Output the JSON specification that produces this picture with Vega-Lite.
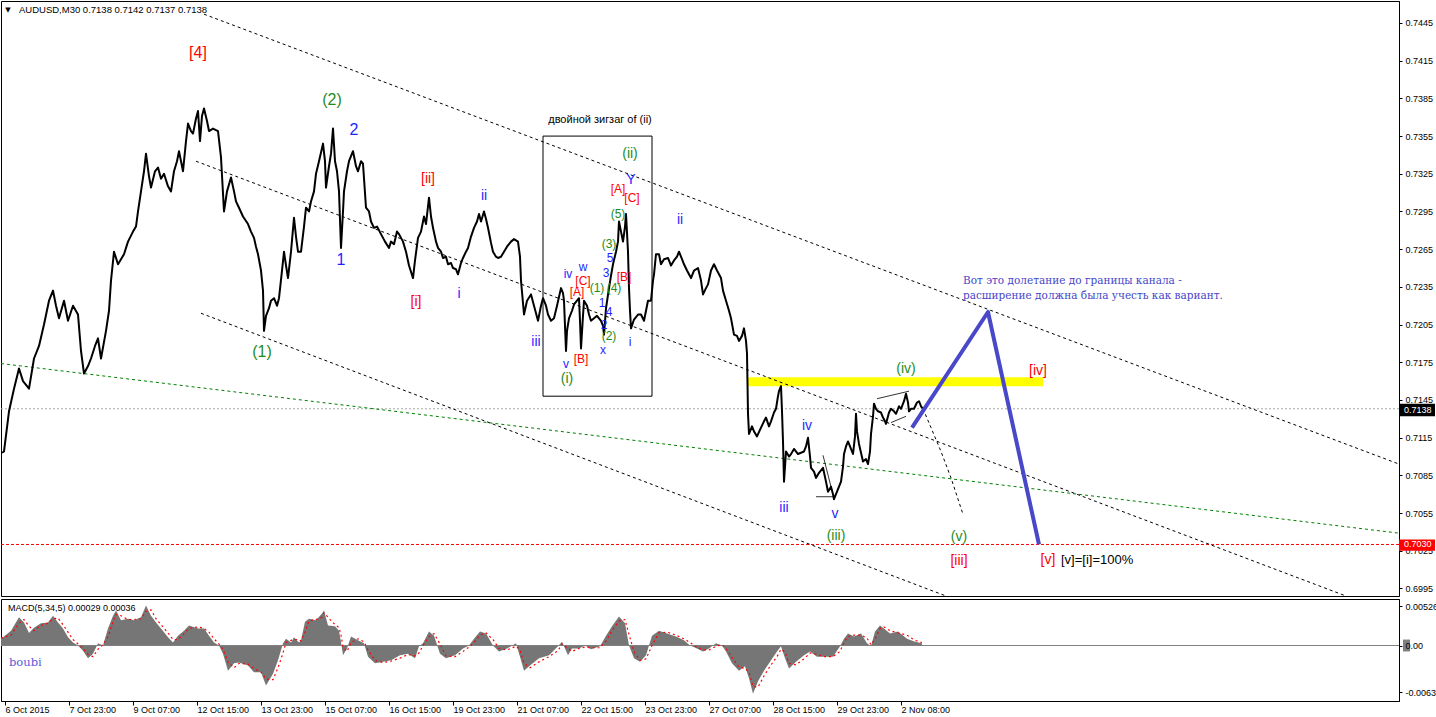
{
"$schema":"https://vega.github.io/schema/vega-lite/v6.json",
"padding":0,
"background":"white",
"spacing":1,
"config":{"view":{"stroke":"black","strokeWidth":1},"font":"Liberation Sans"},
"vconcat":[
{
"width":1398,"height":595,
"resolve":{"axis":{"x":"independent","y":"independent"}},
"layer":[
{"data":{"values":[{"x":747,"x2":1042,"p":0.7163,"p2":0.7156}]},
 "mark":{"type":"rect","color":"#ffff00"},
 "encoding":{"x":{"field":"x","type":"quantitative","scale":{"domain":[0,1398],"nice":false,"zero":false},"axis":null},"x2":{"field":"x2"},
 "y":{"field":"p","type":"quantitative","scale":{"domain":[0.6989,0.74625],"nice":false,"zero":false},
 "axis":{"orient":"right","values":[0.7445,0.7415,0.7385,0.7355,0.7325,0.7295,0.7265,0.7235,0.7205,0.7175,0.7145,0.7115,0.7085,0.7055,0.7025,0.6995],"format":".4f","title":null,"grid":false,"domainColor":"black","tickColor":"black","tickSize":3,"labelColor":"black","labelFont":"Liberation Sans","labelFontSize":9,"labelPadding":3,"labelFlush":false,"labelOverlap":false,"labelBound":false}},"y2":{"field":"p2"}}},
{"data":{"values":[{}]},
 "mark":{"type":"rule","color":"#a8a8a8","strokeDash":[2,2],"strokeWidth":1,"clip":true},
 "encoding":{"y":{"datum":0.7138,"type":"quantitative","scale":{"domain":[0.6989,0.74625],"nice":false,"zero":false},"axis":null}}},
{"data":{"values":[{}]},
 "mark":{"type":"rule","color":"#ff0000","strokeDash":[3,2],"strokeWidth":1,"clip":true},
 "encoding":{"y":{"datum":0.7030,"type":"quantitative","scale":{"domain":[0.6989,0.74625],"nice":false,"zero":false},"axis":null}}},
{"data":{"values":[{"id":"g","x":0,"p":0.7174},{"id":"g","x":1398,"p":0.7039}]},
 "mark":{"type":"line","color":"#008000","strokeDash":[3,3],"strokeWidth":1,"clip":true,"strokeJoin":"round"},
 "encoding":{"x":{"field":"x","type":"quantitative","scale":{"domain":[0,1398],"nice":false,"zero":false},"axis":null},
 "y":{"field":"p","type":"quantitative","scale":{"domain":[0.6989,0.74625],"nice":false,"zero":false},"axis":null},"detail":{"field":"id"}}},
{"data":{"values":[
 {"id":"upper","x":203,"p":0.7452},{"id":"upper","x":1398,"p":0.7094},
 {"id":"middle","x":195,"p":0.7335},{"id":"middle","x":1345,"p":0.6989},
 {"id":"lower","x":200,"p":0.7214},{"id":"lower","x":945,"p":0.6989},
 {"id":"proj","x":922,"p":0.7138},{"id":"proj","x":930,"p":0.7123},{"id":"proj","x":940,"p":0.7104},{"id":"proj","x":950,"p":0.7083},{"id":"proj","x":962,"p":0.7054}
 ]},
 "mark":{"type":"line","color":"black","strokeDash":[3,3],"strokeWidth":1,"clip":true,"strokeJoin":"round"},
 "encoding":{"x":{"field":"x","type":"quantitative","scale":{"domain":[0,1398],"nice":false,"zero":false},"axis":null},
 "y":{"field":"p","type":"quantitative","scale":{"domain":[0.6989,0.74625],"nice":false,"zero":false},"axis":null},"detail":{"field":"id"}}},
{"data":{"values":[{"x":542,"x2":651,"p":0.7355,"p2":0.7148}]},
 "mark":{"type":"rect","fill":null,"fillOpacity":0,"stroke":"black","strokeWidth":1},
 "encoding":{"x":{"field":"x","type":"quantitative","scale":{"domain":[0,1398],"nice":false,"zero":false},"axis":null},"x2":{"field":"x2"},
 "y":{"field":"p","type":"quantitative","scale":{"domain":[0.6989,0.74625],"nice":false,"zero":false},"axis":null},"y2":{"field":"p2"}}},
{"data":{"values":[
 {"id":"a","x":876,"p":0.7146},{"id":"a","x":908,"p":0.7152},
 {"id":"b","x":890,"p":0.7127},{"id":"b","x":905,"p":0.7132},
 {"id":"c","x":815,"p":0.7068},{"id":"c","x":833,"p":0.7068},
 {"id":"d","x":822,"p":0.7101},{"id":"d","x":830,"p":0.7076}
 ]},
 "mark":{"type":"line","color":"black","strokeWidth":0.8,"clip":true,"strokeJoin":"round"},
 "encoding":{"x":{"field":"x","type":"quantitative","scale":{"domain":[0,1398],"nice":false,"zero":false},"axis":null},
 "y":{"field":"p","type":"quantitative","scale":{"domain":[0.6989,0.74625],"nice":false,"zero":false},"axis":null},"detail":{"field":"id"}}},
{"data":{"values":[
{"x":1,"p":0.7103},{"x":3,"p":0.7104},{"x":8,"p":0.7136},{"x":13,"p":0.7154},{"x":18,"p":0.7170},{"x":22,"p":0.7160},{"x":28,"p":0.7154},{"x":33,"p":0.7178},{"x":38,"p":0.7188},{"x":43,"p":0.7205},{"x":48,"p":0.7224},{"x":52,"p":0.7232},{"x":55,"p":0.7220},{"x":58,"p":0.7210},{"x":63,"p":0.7224},{"x":67,"p":0.7208},{"x":72,"p":0.7220},{"x":77,"p":0.7213},{"x":80,"p":0.7184},{"x":83,"p":0.7166},{"x":87,"p":0.7172},{"x":90,"p":0.7178},{"x":94,"p":0.7188},{"x":97,"p":0.7194},{"x":100,"p":0.7178},{"x":105,"p":0.7200},{"x":108,"p":0.7216},{"x":110,"p":0.7240},{"x":113,"p":0.7263},{"x":117,"p":0.7253},{"x":120,"p":0.7257},{"x":123,"p":0.7261},{"x":127,"p":0.7271},{"x":132,"p":0.7279},{"x":135,"p":0.7283},{"x":137,"p":0.7295},{"x":140,"p":0.7311},{"x":143,"p":0.7327},{"x":145,"p":0.7341},{"x":148,"p":0.7323},{"x":150,"p":0.7314},{"x":154,"p":0.7327},{"x":157,"p":0.7330},{"x":160,"p":0.7321},{"x":163,"p":0.7325},{"x":167,"p":0.7315},{"x":170,"p":0.7311},{"x":173,"p":0.7327},{"x":176,"p":0.7335},{"x":178,"p":0.7343},{"x":182,"p":0.7327},{"x":185,"p":0.7351},{"x":187,"p":0.7365},{"x":190,"p":0.7359},{"x":192,"p":0.7357},{"x":195,"p":0.7369},{"x":197,"p":0.7375},{"x":199,"p":0.7351},{"x":201,"p":0.7371},{"x":203,"p":0.7377},{"x":206,"p":0.7367},{"x":208,"p":0.7359},{"x":212,"p":0.7361},{"x":217,"p":0.7359},{"x":220,"p":0.7338},{"x":223,"p":0.7295},{"x":226,"p":0.7311},{"x":230,"p":0.7322},{"x":233,"p":0.7311},{"x":235,"p":0.7303},{"x":238,"p":0.7298},{"x":242,"p":0.7291},{"x":247,"p":0.7285},{"x":250,"p":0.7279},{"x":253,"p":0.7274},{"x":255,"p":0.7267},{"x":257,"p":0.7261},{"x":260,"p":0.7248},{"x":262,"p":0.7232},{"x":263,"p":0.7200},{"x":265,"p":0.7212},{"x":268,"p":0.7218},{"x":270,"p":0.7224},{"x":273,"p":0.7226},{"x":276,"p":0.7220},{"x":278,"p":0.7226},{"x":281,"p":0.7248},{"x":283,"p":0.7263},{"x":285,"p":0.7252},{"x":287,"p":0.7242},{"x":290,"p":0.7263},{"x":293,"p":0.7290},{"x":295,"p":0.7275},{"x":297,"p":0.7263},{"x":300,"p":0.7263},{"x":303,"p":0.7283},{"x":305,"p":0.7298},{"x":308,"p":0.7295},{"x":310,"p":0.7303},{"x":313,"p":0.7311},{"x":315,"p":0.7325},{"x":318,"p":0.7335},{"x":322,"p":0.7349},{"x":324,"p":0.7335},{"x":325,"p":0.7314},{"x":328,"p":0.7331},{"x":330,"p":0.7341},{"x":332,"p":0.7361},{"x":334,"p":0.7335},{"x":336,"p":0.7327},{"x":338,"p":0.7311},{"x":340,"p":0.7266},{"x":342,"p":0.7295},{"x":343,"p":0.7311},{"x":346,"p":0.7327},{"x":348,"p":0.7335},{"x":350,"p":0.7339},{"x":352,"p":0.7343},{"x":355,"p":0.7331},{"x":357,"p":0.7327},{"x":360,"p":0.7335},{"x":362,"p":0.7333},{"x":365,"p":0.7298},{"x":368,"p":0.7295},{"x":370,"p":0.7287},{"x":373,"p":0.7282},{"x":376,"p":0.7283},{"x":380,"p":0.7277},{"x":384,"p":0.7271},{"x":388,"p":0.7266},{"x":390,"p":0.7271},{"x":393,"p":0.7269},{"x":396,"p":0.7279},{"x":398,"p":0.7277},{"x":402,"p":0.7271},{"x":405,"p":0.7263},{"x":408,"p":0.7252},{"x":412,"p":0.7242},{"x":414,"p":0.7256},{"x":417,"p":0.7274},{"x":420,"p":0.7279},{"x":423,"p":0.7291},{"x":425,"p":0.7285},{"x":428,"p":0.7306},{"x":430,"p":0.7291},{"x":432,"p":0.7282},{"x":435,"p":0.7271},{"x":437,"p":0.7266},{"x":440,"p":0.7263},{"x":442,"p":0.7258},{"x":445,"p":0.7259},{"x":447,"p":0.7253},{"x":450,"p":0.7254},{"x":452,"p":0.7250},{"x":455,"p":0.7249},{"x":457,"p":0.7245},{"x":460,"p":0.7254},{"x":462,"p":0.7258},{"x":465,"p":0.7263},{"x":467,"p":0.7266},{"x":470,"p":0.7275},{"x":473,"p":0.7282},{"x":476,"p":0.7287},{"x":478,"p":0.7293},{"x":480,"p":0.7287},{"x":483,"p":0.7295},{"x":485,"p":0.7289},{"x":487,"p":0.7282},{"x":490,"p":0.7270},{"x":492,"p":0.7263},{"x":495,"p":0.7259},{"x":497,"p":0.7258},{"x":500,"p":0.7259},{"x":503,"p":0.7263},{"x":506,"p":0.7267},{"x":510,"p":0.7271},{"x":513,"p":0.7273},{"x":517,"p":0.7271},{"x":519,"p":0.7259},{"x":520,"p":0.7240},{"x":523,"p":0.7213},{"x":526,"p":0.7224},{"x":530,"p":0.7229},{"x":533,"p":0.7220},{"x":537,"p":0.7208},{"x":540,"p":0.7220},{"x":542,"p":0.7226},{"x":545,"p":0.7220},{"x":547,"p":0.7213},{"x":550,"p":0.7208},{"x":553,"p":0.7210},{"x":556,"p":0.7220},{"x":560,"p":0.7234},{"x":562,"p":0.7230},{"x":563,"p":0.7224},{"x":565,"p":0.7184},{"x":566,"p":0.7200},{"x":568,"p":0.7210},{"x":571,"p":0.7216},{"x":573,"p":0.7221},{"x":576,"p":0.7224},{"x":578,"p":0.7226},{"x":579,"p":0.7208},{"x":580,"p":0.7186},{"x":582,"p":0.7212},{"x":583,"p":0.7224},{"x":586,"p":0.7220},{"x":588,"p":0.7213},{"x":590,"p":0.7208},{"x":593,"p":0.7210},{"x":596,"p":0.7212},{"x":600,"p":0.7208},{"x":602,"p":0.7204},{"x":603,"p":0.7197},{"x":605,"p":0.7218},{"x":608,"p":0.7234},{"x":610,"p":0.7244},{"x":612,"p":0.7253},{"x":615,"p":0.7263},{"x":617,"p":0.7271},{"x":618,"p":0.7287},{"x":620,"p":0.7279},{"x":622,"p":0.7271},{"x":624,"p":0.7283},{"x":625,"p":0.7293},{"x":627,"p":0.7263},{"x":628,"p":0.7234},{"x":629,"p":0.7216},{"x":630,"p":0.7202},{"x":633,"p":0.7209},{"x":637,"p":0.7213},{"x":640,"p":0.7213},{"x":643,"p":0.7208},{"x":647,"p":0.7224},{"x":650,"p":0.7224},{"x":652,"p":0.7240},{"x":653,"p":0.7245},{"x":655,"p":0.7261},{"x":658,"p":0.7261},{"x":660,"p":0.7253},{"x":663,"p":0.7257},{"x":667,"p":0.7258},{"x":670,"p":0.7252},{"x":673,"p":0.7256},{"x":676,"p":0.7259},{"x":678,"p":0.7263},{"x":681,"p":0.7257},{"x":683,"p":0.7253},{"x":686,"p":0.7248},{"x":690,"p":0.7242},{"x":693,"p":0.7248},{"x":697,"p":0.7250},{"x":700,"p":0.7240},{"x":702,"p":0.7229},{"x":705,"p":0.7234},{"x":707,"p":0.7237},{"x":710,"p":0.7248},{"x":713,"p":0.7253},{"x":716,"p":0.7248},{"x":720,"p":0.7242},{"x":722,"p":0.7232},{"x":725,"p":0.7224},{"x":728,"p":0.7216},{"x":730,"p":0.7210},{"x":733,"p":0.7197},{"x":736,"p":0.7196},{"x":738,"p":0.7192},{"x":741,"p":0.7196},{"x":743,"p":0.7202},{"x":745,"p":0.7192},{"x":746,"p":0.7182},{"x":747,"p":0.7134},{"x":748,"p":0.7118},{"x":751,"p":0.7124},{"x":753,"p":0.7120},{"x":756,"p":0.7116},{"x":760,"p":0.7123},{"x":763,"p":0.7128},{"x":765,"p":0.7131},{"x":768,"p":0.7124},{"x":770,"p":0.7128},{"x":773,"p":0.7135},{"x":775,"p":0.7138},{"x":777,"p":0.7148},{"x":778,"p":0.7152},{"x":780,"p":0.7156},{"x":781,"p":0.7136},{"x":782,"p":0.7112},{"x":783,"p":0.7080},{"x":784,"p":0.7092},{"x":785,"p":0.7104},{"x":788,"p":0.7100},{"x":790,"p":0.7102},{"x":793,"p":0.7106},{"x":797,"p":0.7102},{"x":800,"p":0.7103},{"x":803,"p":0.7104},{"x":805,"p":0.7108},{"x":807,"p":0.7115},{"x":809,"p":0.7100},{"x":810,"p":0.7091},{"x":813,"p":0.7088},{"x":815,"p":0.7083},{"x":818,"p":0.7087},{"x":822,"p":0.7091},{"x":825,"p":0.7080},{"x":827,"p":0.7072},{"x":830,"p":0.7076},{"x":832,"p":0.7070},{"x":833,"p":0.7066},{"x":836,"p":0.7072},{"x":840,"p":0.7080},{"x":842,"p":0.7092},{"x":843,"p":0.7102},{"x":845,"p":0.7108},{"x":847,"p":0.7112},{"x":850,"p":0.7106},{"x":852,"p":0.7102},{"x":854,"p":0.7116},{"x":855,"p":0.7134},{"x":856,"p":0.7120},{"x":858,"p":0.7110},{"x":860,"p":0.7103},{"x":862,"p":0.7096},{"x":865,"p":0.7098},{"x":867,"p":0.7094},{"x":869,"p":0.7104},{"x":870,"p":0.7118},{"x":872,"p":0.7132},{"x":873,"p":0.7142},{"x":875,"p":0.7138},{"x":877,"p":0.7136},{"x":880,"p":0.7135},{"x":882,"p":0.7131},{"x":884,"p":0.7128},{"x":885,"p":0.7126},{"x":888,"p":0.7135},{"x":890,"p":0.7138},{"x":893,"p":0.7136},{"x":895,"p":0.7134},{"x":898,"p":0.7140},{"x":900,"p":0.7138},{"x":903,"p":0.7144},{"x":905,"p":0.7150},{"x":907,"p":0.7143},{"x":908,"p":0.7136},{"x":910,"p":0.7138},{"x":913,"p":0.7138},{"x":916,"p":0.7143},{"x":918,"p":0.7144},{"x":920,"p":0.7140},{"x":922,"p":0.7138}
 ]},
 "mark":{"type":"line","color":"black","strokeWidth":2,"clip":true,"strokeJoin":"round"},
 "encoding":{"x":{"field":"x","type":"quantitative","scale":{"domain":[0,1398],"nice":false,"zero":false},"axis":null},
 "y":{"field":"p","type":"quantitative","scale":{"domain":[0.6989,0.74625],"nice":false,"zero":false},"axis":null}}},
{"data":{"values":[{"x":911,"p":0.7123},{"x":987,"p":0.7215},{"x":1038,"p":0.7030}]},
 "mark":{"type":"line","color":"#4848c8","strokeWidth":4,"clip":true,"strokeJoin":"round"},
 "encoding":{"x":{"field":"x","type":"quantitative","scale":{"domain":[0,1398],"nice":false,"zero":false},"axis":null},
 "y":{"field":"p","type":"quantitative","scale":{"domain":[0.6989,0.74625],"nice":false,"zero":false},"axis":null}}},
{"data":{"values":[
{"x":197,"p":0.7421,"t":"[4]","deg":"primary","tier":"big"},
{"x":331,"p":0.7384,"t":"(2)","deg":"intermediate","tier":"big"},
{"x":353,"p":0.7360,"t":"2","deg":"minor","tier":"big"},
{"x":340,"p":0.7256,"t":"1","deg":"minor","tier":"big"},
{"x":261,"p":0.7183,"t":"(1)","deg":"intermediate","tier":"big"},
{"x":427,"p":0.7321,"t":"[ii]","deg":"primary","tier":"mid"},
{"x":415,"p":0.7223,"t":"[i]","deg":"primary","tier":"mid"},
{"x":483,"p":0.7307,"t":"ii","deg":"minor","tier":"mid"},
{"x":458,"p":0.7229,"t":"i","deg":"minor","tier":"mid"},
{"x":535,"p":0.7191,"t":"iii","deg":"minor","tier":"mid"},
{"x":629,"p":0.7341,"t":"(ii)","deg":"intermediate","tier":"mid"},
{"x":630,"p":0.7320,"t":"Y","deg":"minor","tier":"mid"},
{"x":617,"p":0.7313,"t":"[A]","deg":"primary","tier":"small"},
{"x":631,"p":0.7306,"t":"[C]","deg":"primary","tier":"small"},
{"x":617,"p":0.7293,"t":"(5)","deg":"intermediate","tier":"small"},
{"x":608,"p":0.7269,"t":"(3)","deg":"intermediate","tier":"small"},
{"x":609,"p":0.7258,"t":"5","deg":"minor","tier":"small"},
{"x":605,"p":0.7246,"t":"3","deg":"minor","tier":"small"},
{"x":623,"p":0.7243,"t":"[B]","deg":"primary","tier":"small"},
{"x":613,"p":0.7234,"t":"(4)","deg":"intermediate","tier":"small"},
{"x":596,"p":0.7234,"t":"(1)","deg":"intermediate","tier":"small"},
{"x":582,"p":0.7251,"t":"w","deg":"minor","tier":"small"},
{"x":567,"p":0.7245,"t":"iv","deg":"minor","tier":"small"},
{"x":582,"p":0.7240,"t":"[C]","deg":"primary","tier":"small"},
{"x":576,"p":0.7231,"t":"[A]","deg":"primary","tier":"small"},
{"x":601,"p":0.7222,"t":"1","deg":"minor","tier":"small"},
{"x":608,"p":0.7215,"t":"4","deg":"minor","tier":"small"},
{"x":603,"p":0.7205,"t":"2","deg":"minor","tier":"small"},
{"x":608,"p":0.7196,"t":"(2)","deg":"intermediate","tier":"small"},
{"x":602,"p":0.7185,"t":"x","deg":"minor","tier":"small"},
{"x":629,"p":0.7191,"t":"i","deg":"minor","tier":"small"},
{"x":565,"p":0.7174,"t":"v","deg":"minor","tier":"small"},
{"x":580,"p":0.7178,"t":"[B]","deg":"primary","tier":"small"},
{"x":566,"p":0.7162,"t":"(i)","deg":"intermediate","tier":"mid"},
{"x":679,"p":0.7288,"t":"ii","deg":"minor","tier":"mid"},
{"x":806,"p":0.7124,"t":"iv","deg":"minor","tier":"mid"},
{"x":783,"p":0.7059,"t":"iii","deg":"minor","tier":"mid"},
{"x":834,"p":0.7054,"t":"v","deg":"minor","tier":"mid"},
{"x":835,"p":0.7037,"t":"(iii)","deg":"intermediate","tier":"mid"},
{"x":905,"p":0.7170,"t":"(iv)","deg":"intermediate","tier":"mid"},
{"x":1037,"p":0.7168,"t":"[iv]","deg":"primary","tier":"mid"},
{"x":958,"p":0.7036,"t":"(v)","deg":"intermediate","tier":"mid"},
{"x":958,"p":0.7017,"t":"[iii]","deg":"primary","tier":"mid"},
{"x":1047,"p":0.7018,"t":"[v]","deg":"primary","tier":"mid"}
 ]},
 "mark":{"type":"text","font":"Liberation Sans","align":"center","baseline":"middle"},
 "encoding":{"x":{"field":"x","type":"quantitative","scale":{"domain":[0,1398],"nice":false,"zero":false},"axis":null},
 "y":{"field":"p","type":"quantitative","scale":{"domain":[0.6989,0.74625],"nice":false,"zero":false},"axis":null},
 "text":{"field":"t"},
 "color":{"field":"deg","type":"nominal","scale":{"domain":["primary","intermediate","minor"],"range":["#ff0000","#1e8c1e","#1f1fff"]},"legend":null},
 "size":{"field":"tier","type":"nominal","scale":{"domain":["big","mid","small"],"range":[16,12,11]},"legend":null}}},
{"data":{"values":[{"x":599,"p":0.7368,"t":"двойной зигзаг of (ii)"}]},
 "mark":{"type":"text","font":"Liberation Sans","fontSize":11,"color":"black","align":"center","baseline":"middle"},
 "encoding":{"x":{"field":"x","type":"quantitative","scale":{"domain":[0,1398],"nice":false,"zero":false},"axis":null},
 "y":{"field":"p","type":"quantitative","scale":{"domain":[0.6989,0.74625],"nice":false,"zero":false},"axis":null},"text":{"field":"t"}}},
{"data":{"values":[{"x":1060,"p":0.7018,"t":"[v]=[i]=100%"}]},
 "mark":{"type":"text","font":"Liberation Sans","fontSize":13,"color":"black","align":"left","baseline":"middle"},
 "encoding":{"x":{"field":"x","type":"quantitative","scale":{"domain":[0,1398],"nice":false,"zero":false},"axis":null},
 "y":{"field":"p","type":"quantitative","scale":{"domain":[0.6989,0.74625],"nice":false,"zero":false},"axis":null},"text":{"field":"t"}}},
{"data":{"values":[{"x":962,"p":0.7240,"t":"Вот это долетание до границы канала -"},{"x":962,"p":0.7228,"t":"расширение должна была учесть как вариант."}]},
 "mark":{"type":"text","font":"DejaVu Serif","fontSize":10.5,"color":"#4646c8","align":"left","baseline":"middle"},
 "encoding":{"x":{"field":"x","type":"quantitative","scale":{"domain":[0,1398],"nice":false,"zero":false},"axis":null},
 "y":{"field":"p","type":"quantitative","scale":{"domain":[0.6989,0.74625],"nice":false,"zero":false},"axis":null},"text":{"field":"t"}}},
{"data":{"values":[{"x":18,"p":0.7455,"t":"AUDUSD,M30  0.7138 0.7142 0.7137 0.7138"}]},
 "mark":{"type":"text","font":"Liberation Sans","fontSize":9.5,"color":"black","align":"left","baseline":"middle"},
 "encoding":{"x":{"field":"x","type":"quantitative","scale":{"domain":[0,1398],"nice":false,"zero":false},"axis":null},
 "y":{"field":"p","type":"quantitative","scale":{"domain":[0.6989,0.74625],"nice":false,"zero":false},"axis":null},"text":{"field":"t"}}},
{"data":{"values":[{"x":7,"p":0.7455,"t":"▼"}]},
 "mark":{"type":"text","font":"DejaVu Sans","fontSize":7,"color":"black","align":"center","baseline":"middle"},
 "encoding":{"x":{"field":"x","type":"quantitative","scale":{"domain":[0,1398],"nice":false,"zero":false},"axis":null},
 "y":{"field":"p","type":"quantitative","scale":{"domain":[0.6989,0.74625],"nice":false,"zero":false},"axis":null},"text":{"field":"t"}}},
{"data":{"values":[{"x":1398,"x2":1434,"p":0.7142,"p2":0.7132}]},
 "mark":{"type":"rect","color":"#000000"},
 "encoding":{"x":{"field":"x","type":"quantitative","scale":{"domain":[0,1398],"nice":false,"zero":false},"axis":null},"x2":{"field":"x2"},
 "y":{"field":"p","type":"quantitative","scale":{"domain":[0.6989,0.74625],"nice":false,"zero":false},"axis":null},"y2":{"field":"p2"}}},
{"data":{"values":[{"x":1398,"x2":1434,"p":0.7034,"p2":0.7025}]},
 "mark":{"type":"rect","color":"#ff0000"},
 "encoding":{"x":{"field":"x","type":"quantitative","scale":{"domain":[0,1398],"nice":false,"zero":false},"axis":null},"x2":{"field":"x2"},
 "y":{"field":"p","type":"quantitative","scale":{"domain":[0.6989,0.74625],"nice":false,"zero":false},"axis":null},"y2":{"field":"p2"}}},
{"data":{"values":[{"lbl":"0.7138","x":1403,"p":0.7137},{"lbl":"0.7030","x":1403,"p":0.7030}]},
 "mark":{"type":"text","font":"Liberation Sans","fontSize":9,"color":"white","align":"left","baseline":"middle"},
 "encoding":{"x":{"field":"x","type":"quantitative","scale":{"domain":[0,1398],"nice":false,"zero":false},"axis":null},
 "y":{"field":"p","type":"quantitative","scale":{"domain":[0.6989,0.74625],"nice":false,"zero":false},"axis":null},"text":{"field":"lbl"}}}
]
},
{
"width":1398,"height":102,
"resolve":{"axis":{"x":"independent","y":"independent"}},
"layer":[
{"data":{"name":"macd","values":[
{"x":0,"m":0.0011,"s":0.0010},{"x":2,"m":0.0011,"s":0.0011},{"x":10,"m":0.0020,"s":0.0014},{"x":18,"m":0.0038,"s":0.0030},{"x":23,"m":0.0031,"s":0.0035},{"x":28,"m":0.0017,"s":0.0026},{"x":33,"m":0.0024,"s":0.0020},{"x":40,"m":0.0030,"s":0.0027},{"x":47,"m":0.0031,"s":0.0030},{"x":52,"m":0.0040,"s":0.0036},{"x":57,"m":0.0031,"s":0.0037},{"x":62,"m":0.0023,"s":0.0028},{"x":67,"m":0.0011,"s":0.0018},{"x":72,"m":0.0004,"s":0.0008},{"x":77,"m":0.0000,"s":0.0002},{"x":82,"m":-0.0007,"s":-0.0004},{"x":87,"m":-0.0017,"s":-0.0012},{"x":92,"m":-0.0011,"s":-0.0015},{"x":97,"m":0.0003,"s":-0.0005},{"x":102,"m":0.0000,"s":0.0001},{"x":107,"m":0.0023,"s":0.0012},{"x":112,"m":0.0040,"s":0.0032},{"x":115,"m":0.0047,"s":0.0042},{"x":120,"m":0.0034,"s":0.0040},{"x":127,"m":0.0036,"s":0.0035},{"x":133,"m":0.0034,"s":0.0035},{"x":140,"m":0.0038,"s":0.0036},{"x":145,"m":0.0054,"s":0.0046},{"x":150,"m":0.0040,"s":0.0048},{"x":155,"m":0.0031,"s":0.0036},{"x":160,"m":0.0023,"s":0.0028},{"x":167,"m":0.0011,"s":0.0017},{"x":172,"m":0.0004,"s":0.0008},{"x":177,"m":0.0013,"s":0.0008},{"x":183,"m":0.0020,"s":0.0016},{"x":188,"m":0.0027,"s":0.0023},{"x":197,"m":0.0023,"s":0.0025},{"x":203,"m":0.0023,"s":0.0023},{"x":208,"m":0.0013,"s":0.0018},{"x":213,"m":0.0004,"s":0.0009},{"x":218,"m":0.0000,"s":0.0002},{"x":222,"m":-0.0011,"s":-0.0005},{"x":227,"m":-0.0034,"s":-0.0022},{"x":233,"m":-0.0024,"s":-0.0030},{"x":238,"m":-0.0023,"s":-0.0024},{"x":247,"m":-0.0027,"s":-0.0025},{"x":253,"m":-0.0036,"s":-0.0031},{"x":260,"m":-0.0036,"s":-0.0036},{"x":265,"m":-0.0054,"s":-0.0045},{"x":272,"m":-0.0038,"s":-0.0046},{"x":277,"m":-0.0020,"s":-0.0030},{"x":282,"m":0.0003,"s":-0.0010},{"x":285,"m":0.0009,"s":0.0004},{"x":290,"m":0.0004,"s":0.0007},{"x":293,"m":0.0011,"s":0.0008},{"x":298,"m":0.0004,"s":0.0008},{"x":300,"m":0.0007,"s":0.0006},{"x":304,"m":0.0032,"s":0.0018},{"x":308,"m":0.0036,"s":0.0033},{"x":315,"m":0.0034,"s":0.0035},{"x":321,"m":0.0043,"s":0.0038},{"x":323,"m":0.0047,"s":0.0044},{"x":327,"m":0.0027,"s":0.0038},{"x":334,"m":0.0026,"s":0.0028},{"x":338,"m":0.0020,"s":0.0024},{"x":340,"m":0.0005,"s":0.0014},{"x":342,"m":-0.0013,"s":-0.0002},{"x":346,"m":-0.0004,"s":-0.0008},{"x":350,"m":0.0012,"s":0.0004},{"x":357,"m":0.0007,"s":0.0009},{"x":363,"m":0.0003,"s":0.0005},{"x":367,"m":-0.0015,"s":-0.0006},{"x":374,"m":-0.0024,"s":-0.0020},{"x":382,"m":-0.0022,"s":-0.0023},{"x":390,"m":-0.0020,"s":-0.0021},{"x":399,"m":-0.0013,"s":-0.0017},{"x":407,"m":-0.0011,"s":-0.0012},{"x":414,"m":-0.0017,"s":-0.0014},{"x":418,"m":-0.0001,"s":-0.0010},{"x":422,"m":0.0003,"s":0.0000},{"x":428,"m":0.0019,"s":0.0012},{"x":433,"m":0.0013,"s":0.0016},{"x":439,"m":-0.0011,"s":0.0002},{"x":445,"m":-0.0017,"s":-0.0014},{"x":454,"m":-0.0013,"s":-0.0015},{"x":462,"m":-0.0004,"s":-0.0008},{"x":468,"m":0.0000,"s":-0.0002},{"x":473,"m":0.0009,"s":0.0004},{"x":479,"m":0.0019,"s":0.0014},{"x":485,"m":0.0016,"s":0.0017},{"x":492,"m":0.0000,"s":0.0008},{"x":498,"m":-0.0008,"s":-0.0004},{"x":506,"m":-0.0004,"s":-0.0006},{"x":515,"m":0.0003,"s":-0.0001},{"x":519,"m":-0.0015,"s":-0.0006},{"x":523,"m":-0.0034,"s":-0.0024},{"x":529,"m":-0.0027,"s":-0.0030},{"x":538,"m":-0.0017,"s":-0.0022},{"x":548,"m":-0.0013,"s":-0.0015},{"x":557,"m":-0.0001,"s":-0.0007},{"x":561,"m":0.0005,"s":0.0002},{"x":567,"m":-0.0013,"s":-0.0004},{"x":571,"m":-0.0004,"s":-0.0008},{"x":578,"m":-0.0004,"s":-0.0004},{"x":584,"m":0.0000,"s":-0.0002},{"x":590,"m":-0.0005,"s":-0.0003},{"x":599,"m":-0.0001,"s":-0.0003},{"x":605,"m":0.0013,"s":0.0006},{"x":611,"m":0.0026,"s":0.0020},{"x":618,"m":0.0039,"s":0.0033},{"x":624,"m":0.0030,"s":0.0035},{"x":628,"m":0.0000,"s":0.0015},{"x":633,"m":-0.0017,"s":-0.0008},{"x":639,"m":-0.0022,"s":-0.0020},{"x":645,"m":-0.0013,"s":-0.0018},{"x":651,"m":0.0013,"s":0.0000},{"x":658,"m":0.0020,"s":0.0017},{"x":666,"m":0.0016,"s":0.0018},{"x":675,"m":0.0012,"s":0.0014},{"x":683,"m":0.0007,"s":0.0009},{"x":689,"m":0.0000,"s":0.0004},{"x":696,"m":-0.0004,"s":-0.0002},{"x":702,"m":-0.0008,"s":-0.0006},{"x":708,"m":-0.0004,"s":-0.0006},{"x":715,"m":0.0003,"s":-0.0001},{"x":721,"m":0.0000,"s":0.0001},{"x":725,"m":-0.0008,"s":-0.0004},{"x":731,"m":-0.0024,"s":-0.0016},{"x":738,"m":-0.0034,"s":-0.0029},{"x":744,"m":-0.0028,"s":-0.0031},{"x":748,"m":-0.0044,"s":-0.0036},{"x":752,"m":-0.0065,"s":-0.0055},{"x":757,"m":-0.0048,"s":-0.0056},{"x":763,"m":-0.0034,"s":-0.0041},{"x":769,"m":-0.0022,"s":-0.0028},{"x":776,"m":-0.0008,"s":-0.0015},{"x":780,"m":-0.0001,"s":-0.0005},{"x":784,"m":-0.0017,"s":-0.0009},{"x":788,"m":-0.0031,"s":-0.0024},{"x":795,"m":-0.0022,"s":-0.0026},{"x":803,"m":-0.0013,"s":-0.0018},{"x":809,"m":-0.0008,"s":-0.0010},{"x":816,"m":-0.0015,"s":-0.0012},{"x":824,"m":-0.0015,"s":-0.0015},{"x":832,"m":-0.0015,"s":-0.0015},{"x":839,"m":-0.0001,"s":-0.0008},{"x":843,"m":0.0009,"s":0.0004},{"x":847,"m":0.0016,"s":0.0012},{"x":853,"m":0.0012,"s":0.0014},{"x":860,"m":0.0016,"s":0.0014},{"x":866,"m":0.0003,"s":0.0010},{"x":870,"m":-0.0001,"s":0.0001},{"x":874,"m":0.0019,"s":0.0009},{"x":879,"m":0.0027,"s":0.0023},{"x":883,"m":0.0023,"s":0.0025},{"x":889,"m":0.0016,"s":0.0020},{"x":897,"m":0.0019,"s":0.0017},{"x":906,"m":0.0009,"s":0.0014},{"x":914,"m":0.0005,"s":0.0007},{"x":921,"m":0.0003,"s":0.0004}
 ]},
 "mark":{"type":"area","color":"#767676","interpolate":"linear","clip":true},
 "encoding":{"x":{"field":"x","type":"quantitative","scale":{"domain":[0,1398],"nice":false,"zero":false},
 "axis":{"orient":"bottom","values":[4,68,132,196,260,324,388,452,516,580,644,708,772,836,900],"labelExpr":"['6 Oct 2015','7 Oct 23:00','9 Oct 07:00','12 Oct 15:00','13 Oct 23:00','15 Oct 07:00','16 Oct 15:00','19 Oct 23:00','21 Oct 07:00','22 Oct 15:00','23 Oct 23:00','27 Oct 07:00','28 Oct 15:00','29 Oct 23:00','2 Nov 08:00'][round((datum.value-4)/64)]","labelAlign":"left","labelFont":"Liberation Sans","labelFontSize":9,"labelColor":"black","tickSize":4,"tickColor":"black","domainColor":"black","labelPadding":0,"grid":false,"title":null,"labelFlush":false,"labelOverlap":false,"labelBound":false}},
 "y":{"field":"m","type":"quantitative","scale":{"domain":[-0.00747,0.00626],"nice":false,"zero":false},
 "axis":{"orient":"right","values":[0.00526,0,-0.0063],"labelExpr":"datum.value > 0.001 ? '0.00526' : (datum.value < -0.001 ? '-0.0063' : '0.00')","title":null,"grid":false,"domainColor":"black","tickColor":"black","tickSize":3,"labelColor":"black","labelFont":"Liberation Sans","labelFontSize":9,"labelPadding":3,"labelFlush":false,"labelOverlap":false,"zindex":1}},
 "y2":{"datum":0}}},
{"data":{"values":[{"x":1402,"x2":1409,"m":0.0008,"m2":-0.0008}]},
 "mark":{"type":"rect","color":"#808080"},
 "encoding":{"x":{"field":"x","type":"quantitative","scale":{"domain":[0,1398],"nice":false,"zero":false},"axis":null},"x2":{"field":"x2"},
 "y":{"field":"m","type":"quantitative","scale":{"domain":[-0.00747,0.00626],"nice":false,"zero":false},"axis":null},"y2":{"field":"m2"}}},
{"data":{"values":[{}]},
 "mark":{"type":"rule","color":"#808080","strokeWidth":1,"clip":true},
 "encoding":{"y":{"datum":0,"type":"quantitative","scale":{"domain":[-0.00747,0.00626],"nice":false,"zero":false},"axis":null}}},
{"data":{"name":"macd"},
 "mark":{"type":"line","color":"#ff0000","strokeDash":[2,3],"strokeWidth":1.2,"clip":true,"strokeJoin":"round"},
 "encoding":{"x":{"field":"x","type":"quantitative","scale":{"domain":[0,1398],"nice":false,"zero":false},"axis":null},
 "y":{"field":"s","type":"quantitative","scale":{"domain":[-0.00747,0.00626],"nice":false,"zero":false},"axis":null}}},
{"data":{"values":[{"x":7,"m":0.00505,"t":"MACD(5,34,5) 0.00029 0.00036"}]},
 "mark":{"type":"text","font":"Liberation Sans","fontSize":9,"color":"black","align":"left","baseline":"middle"},
 "encoding":{"x":{"field":"x","type":"quantitative","scale":{"domain":[0,1398],"nice":false,"zero":false},"axis":null},
 "y":{"field":"m","type":"quantitative","scale":{"domain":[-0.00747,0.00626],"nice":false,"zero":false},"axis":null},"text":{"field":"t"}}},
{"data":{"values":[{"x":8,"m":-0.00236,"t":"boubi"}]},
 "mark":{"type":"text","font":"DejaVu Serif","fontSize":11.5,"color":"#5a5ad8","align":"left","baseline":"middle"},
 "encoding":{"x":{"field":"x","type":"quantitative","scale":{"domain":[0,1398],"nice":false,"zero":false},"axis":null},
 "y":{"field":"m","type":"quantitative","scale":{"domain":[-0.00747,0.00626],"nice":false,"zero":false},"axis":null},"text":{"field":"t"}}}
]
}
]
}
